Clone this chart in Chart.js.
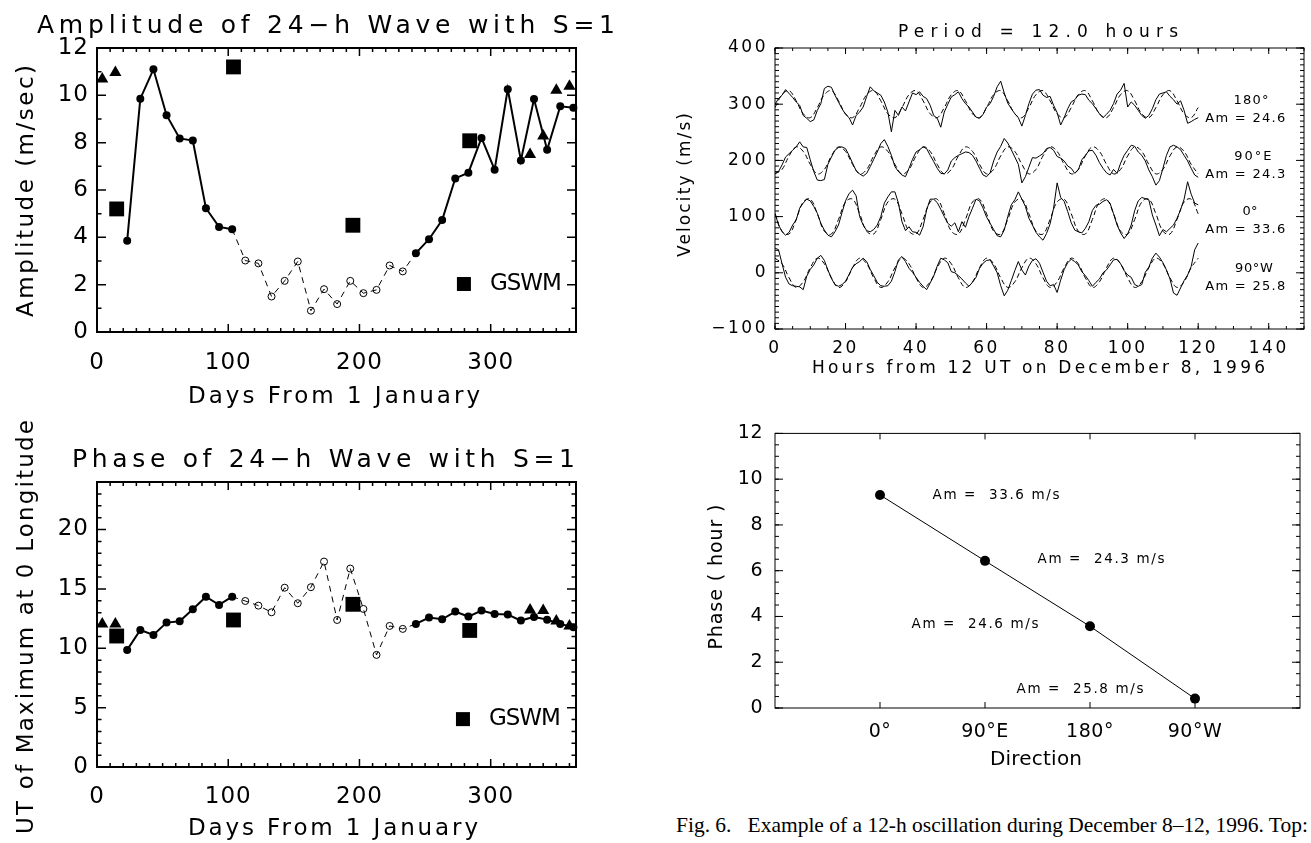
<!DOCTYPE html>
<html>
<head>
<meta charset="utf-8">
<script src="https://cdn.jsdelivr.net/npm/chart.js@4.4.1/dist/chart.umd.min.js"></script>
<style>
  html, body { margin: 0; padding: 0; background: #fff; }
  body { width: 1311px; height: 843px; position: relative; overflow: hidden; }
  canvas { position: absolute; }
  #cap { position: absolute; left: 676px; top: 812px; font-family: 'Liberation Serif', serif; font-size: 19px; line-height: 26px; white-space: pre; color: #000; }
</style>
</head>
<body>
<canvas id="amp" width="640" height="415" style="left:0;top:0"></canvas>
<canvas id="phase" width="640" height="423" style="left:0;top:420px"></canvas>
<canvas id="wave" width="651" height="400" style="left:660px;top:0"></canvas>
<canvas id="dir" width="651" height="380" style="left:660px;top:410px"></canvas>
<div id="cap">Fig. 6.   Example of a 12-h oscillation during December 8–12, 1996. Top:</div>
<script>
// LEFT PANELS: 24-h wave, S=1
const days = [23,33,43,53,63,73,83,93,103,113,123,133,143,153,163,173,183,193,203,213,223,233,243,253,263,273,283,293,303,313,323,333,343,353,363];
const ampValues = [3.86,9.86,11.1,9.16,8.18,8.09,5.23,4.44,4.34,3.02,2.9,1.5,2.16,2.98,0.9,1.81,1.18,2.16,1.64,1.78,2.81,2.56,3.33,3.92,4.73,6.49,6.73,8.2,6.86,10.26,7.25,9.84,7.7,9.54,9.48];
const phaseValues = [9.86,11.54,11.12,12.16,12.27,13.28,14.34,13.65,14.34,13.98,13.59,13.03,15.1,13.79,15.14,17.3,12.38,16.71,13.31,9.44,11.88,11.63,12.05,12.58,12.44,13.09,12.67,13.17,12.89,12.84,12.33,12.64,12.41,12.05,11.77];
// 1 = open circle / dashed (weak fit)
const weakFit = [0,0,0,0,0,0,0,0,0,1,1,1,1,1,1,1,1,1,1,1,1,1,0,0,0,0,0,0,0,0,0,0,0,0,0];
const triDays = [4,14,330,340,350,360];
const ampTri = [10.69,10.97,7.5,8.28,10.21,10.38];
const phaseTri = [12.05,12.05,13.23,13.17,12.3,11.88];
const gswmDays = [15,104,195,284];
const ampGswm = [5.2,11.2,4.51,8.08];
const phaseGswm = [11.03,12.38,13.7,11.5];
const dayTicks = [0,100,200,300];
const ampTicks = [0,2,4,6,8,10,12];
const phaseTicks = [0,5,10,15,20];

// TOP RIGHT: velocities, hourly, with 12-h fits every 2 h
const obs180 = [300,310,316,326,319,312,304,298,280,275,269,272,289,301,328,332,330,316,304,292,282,276,263,280,286,295,314,331,324,320,316,304,286,251,289,280,295,288,304,320,317,322,314,310,298,280,275,259,286,300,313,317,322,310,301,295,286,277,275,282,295,301,314,331,341,320,302,292,283,276,261,280,301,318,325,326,316,312,314,298,285,263,276,292,304,308,316,318,317,307,301,292,283,276,282,289,301,318,325,337,295,304,298,289,280,275,280,292,308,318,320,322,314,308,300,306,289,266,269,273,276];
const obs90E = [177,180,192,206,212,218,224,233,224,223,201,180,165,164,166,193,206,218,223,224,221,209,195,182,176,172,177,189,202,215,230,237,225,209,189,180,174,171,186,202,215,219,224,221,209,198,186,177,176,183,199,205,209,212,215,214,209,199,186,174,171,178,199,215,225,239,231,219,206,193,160,171,188,205,204,208,212,221,223,218,207,204,199,190,186,177,183,201,209,217,218,209,196,186,178,174,184,177,195,209,218,227,225,215,209,199,183,171,156,164,186,209,224,227,224,219,209,199,186,174,170];
const obs0 = [106,85,73,67,72,85,94,115,124,131,128,118,106,88,76,67,64,73,85,107,128,141,147,137,100,85,75,73,77,85,100,124,135,144,144,124,91,75,82,73,72,67,82,112,131,131,125,113,100,88,83,89,73,91,81,100,115,131,128,115,99,88,77,66,64,76,100,121,130,144,131,118,97,85,72,64,58,70,87,115,160,134,127,109,89,76,73,71,79,91,111,120,122,127,130,124,105,85,71,61,69,85,111,128,134,132,130,103,85,66,77,73,79,85,97,112,131,162,140,124,121];
const obs90W = [44,41,16,-8,-20,-23,-24,-25,-30,-6,6,14,26,31,22,5,-10,-21,-24,-21,-15,-3,10,16,20,26,20,6,-5,-17,-23,-24,-23,-15,2,23,29,20,8,1,-8,-17,-24,-30,-18,-6,12,26,23,18,2,0,-5,-11,-18,-24,-17,-8,8,17,22,23,12,0,-23,-41,-31,-14,4,20,5,-4,12,22,25,17,1,-15,-23,-21,-35,-13,6,18,24,20,14,2,-5,-14,-24,-17,-11,0,5,14,23,24,16,4,-4,-8,-21,-24,-21,1,10,26,35,28,18,5,-11,-36,-40,-27,-14,-4,11,41,53];
const fit180 = [294,317,324,306,283,276,294,317,324,306,283,276,294,317,324,306,283,276,294,317,324,306,283,276,294,317,324,306,283,276,294,317,324,306,283,276,294,317,324,306,283,276,294,317,324,306,283,276,294,317,324,306,283,276,294,317,324,306,283,276,294];
const fit90E = [176,184,208,224,216,193,176,184,208,224,216,193,176,184,208,224,216,193,176,184,208,224,216,193,176,184,208,224,216,193,176,184,208,224,216,193,176,184,208,224,216,193,176,184,208,224,216,193,176,184,208,224,216,193,176,184,208,224,216,193,176];
const fit0 = [105,74,69,95,126,131,105,74,69,95,126,131,105,74,69,95,126,131,105,74,69,95,126,131,105,74,69,95,126,131,105,74,69,95,126,131,105,74,69,95,126,131,105,74,69,95,126,131,105,74,69,95,126,131,105,74,69,95,126,131,105];
const fit90W = [26,16,-9,-26,-16,9,26,16,-9,-26,-16,9,26,16,-9,-26,-16,9,26,16,-9,-26,-16,9,26,16,-9,-26,-16,9,26,16,-9,-26,-16,9,26,16,-9,-26,-16,9,26,16,-9,-26,-16,9,26,16,-9,-26,-16,9,26,16,-9,-26,-16,9,26];
const obsHours = obs180.map((_, i) => i);
const fitHours = fit180.map((_, i) => i * 2);
const waveNames = ['180°', '90°E', '0°', '90°W'];
const waveAm = ['Am = 24.6', 'Am = 24.3', 'Am = 33.6', 'Am = 25.8'];
const hourTicks = [0,20,40,60,80,100,120,140];
const velTicks = [-100,0,100,200,300,400];
const velTickLabels = ['−100','0','100','200','300','400'];

// BOTTOM RIGHT: phase vs direction
const dirPos = [1,2,3,4];
const dirLabels = ['0°','90°E','180°','90°W'];
const dirPhase = [9.31,6.43,3.57,0.41];
const dirAm = ['Am =  33.6 m/s','Am =  24.3 m/s','Am =  24.6 m/s','Am =  25.8 m/s'];
const dirPhaseTicks = [0,2,4,6,8,10,12];

const FONT = "'DejaVu Sans', Verdana, sans-serif";
Chart.defaults.font.family = FONT;
Chart.defaults.color = '#000';

function spacedText(ctx, t, ox, oy) {
  ctx.save();
  ctx.font = t.size + 'px ' + FONT;
  ctx.fillStyle = '#000';
  ctx.textAlign = 'left';
  ctx.textBaseline = t.middle ? 'middle' : 'alphabetic';
  ctx.letterSpacing = '0px';
  const n = Array.from(t.text).length;
  const natural = ctx.measureText(t.text).width;
  const gap = t.width ? (t.width - natural) / Math.max(1, n - 1) : 0;
  const total = t.width || natural;
  ctx.letterSpacing = gap + 'px';
  ctx.translate(t.x - ox, t.y - oy);
  if (t.rot) ctx.rotate(-Math.PI / 2);
  ctx.fillText(t.text, t.align === 'center' ? -total / 2 : 0, 0);
  ctx.restore();
}

function stepList(min, max, step) {
  const out = [];
  for (let v = min; v <= max + 1e-9; v += step) out.push(v);
  return out;
}

function drawFrame(chart, f) {
  const { ctx, chartArea: a } = chart;
  const sx = chart.scales.x, sy = chart.scales.y;
  ctx.save();
  ctx.strokeStyle = '#000';
  ctx.lineWidth = f.tlw;
  ctx.beginPath();
  const xs = f.xMajor.map(v => [v, f.xLen]);
  if (f.xMinor) stepList(sx.min, sx.max, f.xMinor).forEach(v => xs.push([v, f.xLen / 2]));
  xs.forEach(([v, len]) => {
    const p = sx.getPixelForValue(v);
    ctx.moveTo(p, a.bottom); ctx.lineTo(p, a.bottom - len);
    ctx.moveTo(p, a.top); ctx.lineTo(p, a.top + len);
  });
  const ys = f.yMajor.map(v => [v, f.yLen]);
  if (f.yMinor) stepList(sy.min, sy.max, f.yMinor).forEach(v => ys.push([v, f.yLen / 2]));
  ys.forEach(([v, len]) => {
    const p = sy.getPixelForValue(v);
    ctx.moveTo(a.left, p); ctx.lineTo(a.left + len, p);
    ctx.moveTo(a.right, p); ctx.lineTo(a.right - len, p);
  });
  ctx.stroke();
  ctx.lineWidth = f.lw;
  ctx.strokeRect(a.left, a.top, a.right - a.left, a.bottom - a.top);
  ctx.restore();
}

// page coordinates for titles, etc.
const decor = {
  amp: {
    origin: [0, 0], tickSpacing: 1,
    frame: { lw: 2, tlw: 1.5, xMajor: dayTicks, xMinor: 10, xLen: 8, yMajor: ampTicks, yMinor: 1, yLen: 9 },
    texts: [
      { text: 'Amplitude of 24−h Wave with S=1', x: 37, y: 33, size: 25, width: 578 },
      { text: 'Days From 1 January', x: 188, y: 403, size: 23, width: 292 },
      { text: 'Amplitude (m/sec)', x: 33, y: 191, size: 23, width: 252, rot: true, align: 'center' }
    ],
    key: { fx: 0.766, fy: 0.831, side: 14, text: 'GSWM', dx: 26, size: 23, width: 72 }
  },
  phase: {
    origin: [0, 420], tickSpacing: 1,
    frame: { lw: 2, tlw: 1.5, xMajor: dayTicks, xMinor: 10, xLen: 8, yMajor: phaseTicks, yMinor: 1, yLen: 9 },
    texts: [
      { text: 'Phase of 24−h Wave with S=1', x: 72, y: 467, size: 25, width: 503 },
      { text: 'Days From 1 January', x: 188, y: 835, size: 23, width: 290 },
      { text: 'UT of Maximum at 0 Longitude', x: 33, y: 627, size: 23, width: 414, rot: true, align: 'center' }
    ],
    key: { fx: 0.764, fy: 0.832, side: 14, text: 'GSWM', dx: 26, size: 23, width: 72 }
  },
  wave: {
    origin: [660, 0], tickSpacing: 2.5,
    frame: { lw: 1, tlw: 1, xMajor: hourTicks, xMinor: 5, xLen: 6, yMajor: velTicks, yMinor: 10, yLen: 8 },
    texts: [
      { text: 'Period = 12.0 hours', x: 898, y: 37, size: 17, width: 280 },
      { text: 'Hours from 12 UT on December 8, 1996', x: 812, y: 373, size: 17, width: 453 },
      { text: 'Velocity (m/s)', x: 690, y: 185, size: 17, width: 144, rot: true, align: 'center' }
    ],
    dataTexts: [
      { text: waveNames[0], x: 135, y: 307, size: 13, width: 35, align: 'center', middle: true },
      { text: waveAm[0], x: 122, y: 275, size: 13, width: 80, middle: true },
      { text: waveNames[1], x: 135.5, y: 206, size: 13, width: 37, align: 'center', middle: true },
      { text: waveAm[1], x: 122, y: 174, size: 13, width: 80, middle: true },
      { text: waveNames[2], x: 134.7, y: 109, size: 13, width: 15, align: 'center', middle: true },
      { text: waveAm[2], x: 122, y: 76, size: 13, width: 80, middle: true },
      { text: waveNames[3], x: 135.8, y: 8, size: 13, width: 38, align: 'center', middle: true },
      { text: waveAm[3], x: 122, y: -24, size: 13, width: 80, middle: true }
    ]
  },
  dir: {
    origin: [660, 410], tickSpacing: 0.5,
    frame: { lw: 1, tlw: 1, xMajor: dirPos, xLen: 6, yMajor: dirPhaseTicks, yMinor: 0.5, yLen: 8 },
    texts: [
      { text: 'Direction', x: 990, y: 765, size: 20, width: 92 },
      { text: 'Phase ( hour )', x: 722, y: 577, size: 19, width: 145, rot: true, align: 'center' }
    ],
    dataTexts: [
      { text: dirAm[0], x: 1.5, y: 9.3, size: 13.5, width: 127, middle: true },
      { text: dirAm[1], x: 2.5, y: 6.5, size: 13.5, width: 127, middle: true },
      { text: dirAm[2], x: 1.3, y: 3.65, size: 13.5, width: 127, middle: true },
      { text: dirAm[3], x: 2.3, y: 0.8, size: 13.5, width: 127, middle: true }
    ]
  }
};

Chart.register({
  id: 'decor',
  beforeDraw(chart) {
    const d = decor[chart.canvas.id];
    chart.ctx.letterSpacing = d.tickSpacing + 'px';
  },
  afterDraw(chart) {
    const d = decor[chart.canvas.id];
    const ctx = chart.ctx;
    const [ox, oy] = d.origin;
    drawFrame(chart, d.frame);
    d.texts.forEach(t => spacedText(ctx, t, ox, oy));
    (d.dataTexts || []).forEach(t => {
      const px = chart.scales.x.getPixelForValue(t.x);
      const py = chart.scales.y.getPixelForValue(t.y);
      spacedText(ctx, Object.assign({}, t, { x: px, y: py }), 0, 0);
    });
    if (d.key) {
      const a = chart.chartArea, k = d.key;
      const cx = a.left + k.fx * (a.right - a.left), cy = a.top + k.fy * (a.bottom - a.top);
      ctx.save();
      ctx.fillStyle = '#000';
      ctx.fillRect(cx - k.side / 2, cy - k.side / 2, k.side, k.side);
      ctx.restore();
      spacedText(ctx, { text: k.text, x: cx + k.dx, y: cy, size: k.size, width: k.width, middle: true }, 0, 0);
    }
  }
});

function axis(o) {
  return {
    type: 'linear', min: o.min, max: o.max,
    grid: { display: false, drawTicks: false }, border: { display: false },
    ticks: {
      color: '#000', font: { family: FONT, size: o.size }, padding: o.pad,
      maxRotation: 0, minRotation: 0, autoSkip: false,
      callback: (v, i) => o.labels ? o.labels[i] : String(v)
    },
    afterBuildTicks: s => { s.ticks = o.ticks.map(v => ({ value: v })); },
    afterFit: s => { if (o.w) s.width = o.w; if (o.h) s.height = o.h; }
  };
}

function pts(xs, ys) { return xs.map((x, i) => ({ x: x, y: ys[i] })); }

function leftDatasets(vals, tri, gswm) {
  const weakSeg = s => weakFit[s.p0DataIndex] || weakFit[s.p1DataIndex];
  return [
    { data: pts(gswmDays, gswm), showLine: false, pointStyle: 'rect', pointRadius: 10.5, pointBackgroundColor: '#000', pointBorderWidth: 0, clip: false },
    { data: pts(triDays, tri), showLine: false, pointStyle: 'triangle', pointRadius: 7, pointBackgroundColor: '#000', pointBorderWidth: 0, clip: false },
    {
      data: pts(days, vals), borderColor: '#000', borderWidth: 2, clip: false,
      pointRadius: c => weakFit[c.dataIndex] ? 3.5 : 4,
      pointBackgroundColor: c => weakFit[c.dataIndex] ? 'rgba(0,0,0,0)' : '#000',
      pointBorderColor: '#000',
      pointBorderWidth: c => weakFit[c.dataIndex] ? 1 : 0,
      segment: {
        borderDash: s => weakSeg(s) ? [6, 5] : [],
        borderWidth: s => weakSeg(s) ? 1 : 2
      }
    }
  ];
}

function base(padding, scales) {
  return {
    responsive: false, animation: false, devicePixelRatio: 1,
    layout: { padding: padding },
    events: [],
    plugins: { legend: { display: false }, tooltip: { enabled: false }, title: { display: false } },
    scales: scales
  };
}

new Chart(document.getElementById('amp'), {
  type: 'line',
  data: { datasets: leftDatasets(ampValues, ampTri, ampGswm) },
  options: base({ top: 48, right: 64, left: 0, bottom: 0 }, {
    x: axis({ min: 0, max: 365, ticks: dayTicks, size: 23, pad: 17, h: 83 }),
    y: axis({ min: 0, max: 12, ticks: ampTicks, size: 23, pad: 8, w: 97 })
  })
});

new Chart(document.getElementById('phase'), {
  type: 'line',
  data: { datasets: leftDatasets(phaseValues, phaseTri, phaseGswm) },
  options: base({ top: 62, right: 64, left: 0, bottom: 0 }, {
    x: axis({ min: 0, max: 365, ticks: dayTicks, size: 23, pad: 16, h: 76 }),
    y: axis({ min: 0, max: 24, ticks: phaseTicks, size: 23, pad: 8, w: 97 })
  })
});

const obsSets = [obs180, obs90E, obs0, obs90W].map(v => ({
  data: pts(obsHours, v), borderColor: '#000', borderWidth: 1, pointRadius: 0
}));
const fitSets = [fit180, fit90E, fit0, fit90W].map(v => ({
  data: pts(fitHours, v), borderColor: '#000', borderWidth: 1, borderDash: [5, 3], tension: 0.4, pointRadius: 0
}));

new Chart(document.getElementById('wave'), {
  type: 'line',
  data: { datasets: obsSets.concat(fitSets) },
  options: base({ top: 48, right: 7, left: 0, bottom: 0 }, {
    x: axis({ min: 0, max: 150, ticks: hourTicks, size: 17, pad: 9, h: 71 }),
    y: axis({ min: -100, max: 400, ticks: velTicks, labels: velTickLabels, size: 17, pad: 7, w: 115 })
  })
});

new Chart(document.getElementById('dir'), {
  type: 'line',
  data: { datasets: [{ data: pts(dirPos, dirPhase), borderColor: '#000', borderWidth: 1, pointRadius: 5, pointBackgroundColor: '#000', pointBorderWidth: 0, clip: false }] },
  options: base({ top: 18, right: 11, left: 0, bottom: 0 }, {
    x: axis({ min: 0, max: 5, ticks: dirPos, labels: dirLabels, size: 19, pad: 13, h: 82 }),
    y: axis({ min: 0, max: 12, ticks: dirPhaseTicks, size: 19, pad: 12, w: 115 })
  })
});

// fit caption width to the reference line length
const cap = document.getElementById('cap');
cap.style.fontSize = (19 * 632 / cap.getBoundingClientRect().width) + 'px';
</script>
</body>
</html>
